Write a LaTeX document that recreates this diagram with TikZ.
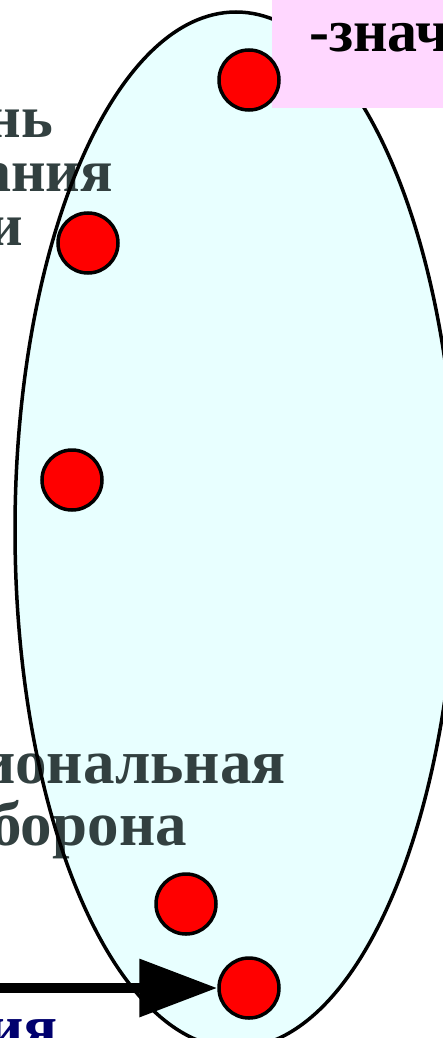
\documentclass[tikz,border=0pt]{standalone}
\usepackage{fontspec}
\setmainfont{Liberation Serif}
\usetikzlibrary{arrows.meta}
\definecolor{ellfill}{RGB}{232,255,255}
\definecolor{pinkfill}{RGB}{255,215,255}
\definecolor{slategray}{RGB}{50,64,64}
\definecolor{navyblue}{RGB}{0,0,110}
\tikzset{
  dot/.style={circle, draw=black, fill=red, line width=3.5pt, minimum size=60pt, inner sep=0pt},
  gtext/.style={text=slategray, font=\fontsize{60pt}{64pt}\selectfont\bfseries, inner sep=0pt},
  gtextb/.style={text=slategray, font=\fontsize{63pt}{66pt}\selectfont\bfseries, inner sep=0pt},
  ptext/.style={text=black, font=\fontsize{60pt}{64pt}\selectfont\bfseries, inner sep=0pt},
  btext/.style={text=navyblue, font=\fontsize{63pt}{66pt}\selectfont\bfseries, inner sep=0pt},
  arr/.style={line width=10pt, -{Triangle[length=78pt, width=56pt]}},
}
\begin{document}
\begin{tikzpicture}[x=1pt,y=-1pt]
\useasboundingbox (0,0) rectangle (443,1038);
\clip (0,0) rectangle (443,1038);
\fill[white] (0,0) rectangle (443,1038);
% ellipse fill
\fill[ellfill] (236,530) ellipse [x radius=221, y radius=518];
% texts
\node[gtext, anchor=base east] (t1) at (53,137) {нь};
\node[gtext, anchor=base east] (t2) at (113,191) {ания};
\node[gtext, anchor=base east] (t3) at (23,245) {и};
\node[gtextb, anchor=base east] (t4) at (286,783) {иональная};
\node[gtextb, anchor=base east] (t5) at (187,845) {оборона};
\node[btext, anchor=base east] (t6) at (58,1048) {ия};
% ellipse outline
\draw[line width=3.5pt] (236,530) ellipse [x radius=221, y radius=518];
% pink box
\fill[pinkfill] (272,-5) rectangle (450,108);
\node[ptext, anchor=base west] (p1) at (309,52) {-знач};
% dots
\node[dot] (c1) at (249,80) {};
\node[dot] (c2) at (88,243) {};
\node[dot] (c3) at (72,480) {};
\node[dot] (c4) at (186,904) {};
\node[dot] (c5) at (249,988) {};
% arrow
\coordinate (as) at (-10,988);
\draw[arr] (as) -- (c5.west);
\end{tikzpicture}
\end{document}
